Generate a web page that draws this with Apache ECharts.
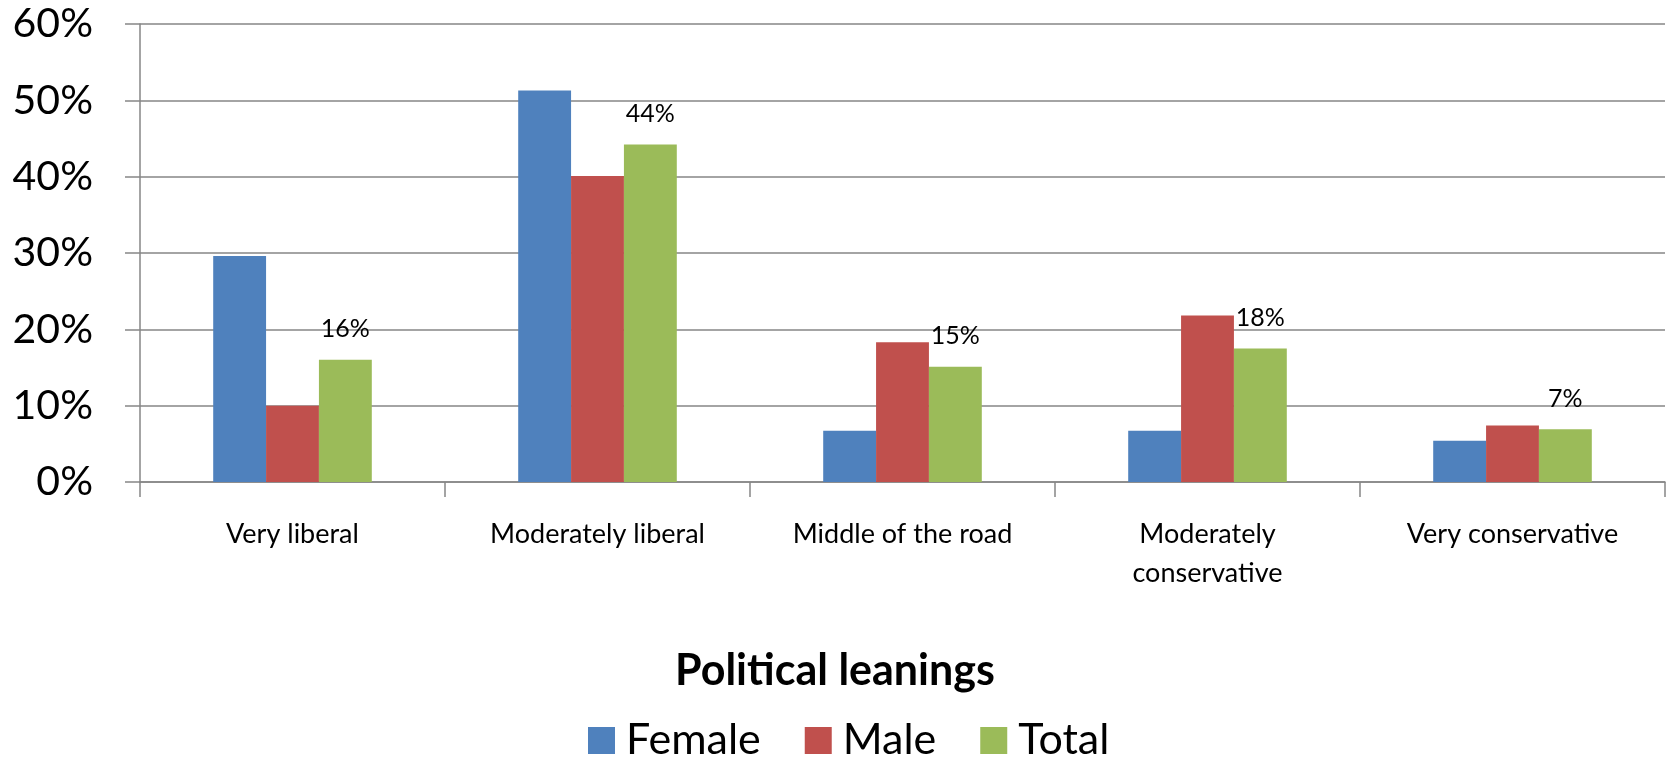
<!DOCTYPE html>
<html>
<head>
<meta charset="utf-8">
<script src="https://cdn.jsdelivr.net/npm/echarts@6/dist/echarts.min.js"></script>
<style>
html,body{margin:0;padding:0;background:#fff;}
#chart{width:1670px;height:758px;}
</style>
</head>
<body>
<div id="chart"></div>
<script>
var categories = ['Very liberal', 'Moderately liberal', 'Middle of the road', 'Moderately conservative', 'Very conservative'];
var female = [0.296, 0.513, 0.067, 0.067, 0.054];
var male = [0.100, 0.401, 0.183, 0.218, 0.074];
var total = [0.160, 0.442, 0.151, 0.175, 0.069];
var yTicks = [0, 0.1, 0.2, 0.3, 0.4, 0.5, 0.6];
var FONT = 'Lato, "Open Sans", sans-serif';

var chart = echarts.init(document.getElementById('chart'));
var grey = '#868686';
chart.setOption({
  animation: false,
  color: ['#4F81BD', '#C0504D', '#9BBB59'],
  textStyle: {fontFamily: FONT},
  title: {
    text: 'Political leanings',
    left: 'center',
    top: 645,
    textStyle: {fontFamily: FONT, fontSize: 43, fontWeight: 'bold', color: '#000'}
  },
  legend: {
    data: ['Female', 'Male', 'Total'],
    left: 583,
    top: 714,
    itemWidth: 27,
    itemHeight: 27,
    itemGap: 44,
    icon: 'rect',
    textStyle: {fontFamily: FONT, fontSize: 43, lineHeight: 42, color: '#000', padding: [0, 0, 0, 6]}
  },
  grid: {left: 140, right: 5, top: 24, bottom: 276, containLabel: false},
  xAxis: {
    type: 'category',
    data: categories,
    axisLine: {lineStyle: {color: grey, width: 1.5}},
    axisTick: {show: true, length: 15, lineStyle: {color: grey, width: 1.5}},
    axisLabel: {
      fontFamily: FONT, fontSize: 27, color: '#000', margin: 33, lineHeight: 39,
      interval: 0,
      formatter: function (v) { return v === 'Moderately conservative' ? 'Moderately\nconservative' : v; }
    }
  },
  yAxis: {
    type: 'value',
    min: yTicks[0],
    max: yTicks[yTicks.length - 1],
    interval: 0.1,
    axisLine: {show: true, lineStyle: {color: grey, width: 1.5}},
    axisTick: {show: true, length: 15, lineStyle: {color: grey, width: 1.5}},
    splitLine: {lineStyle: {color: grey, width: 1.5}},
    axisLabel: {
      fontFamily: FONT, fontSize: 41, color: '#000', margin: 47,
      formatter: function (v) { return Math.round(v * 100) + '%'; }
    }
  },
  series: [
    {name: 'Female', type: 'bar', data: female, barGap: '0%', barCategoryGap: '48%'},
    {name: 'Male', type: 'bar', data: male, barGap: '0%', barCategoryGap: '48%'},
    {name: 'Total', type: 'bar', data: total, barGap: '0%', barCategoryGap: '48%',
      label: {show: true, position: 'top', distance: 18, fontFamily: FONT, fontSize: 25, color: '#000',
        formatter: function (p) { return Math.round(p.value * 100) + '%'; }}}
  ]
});
</script>
</body>
</html>
